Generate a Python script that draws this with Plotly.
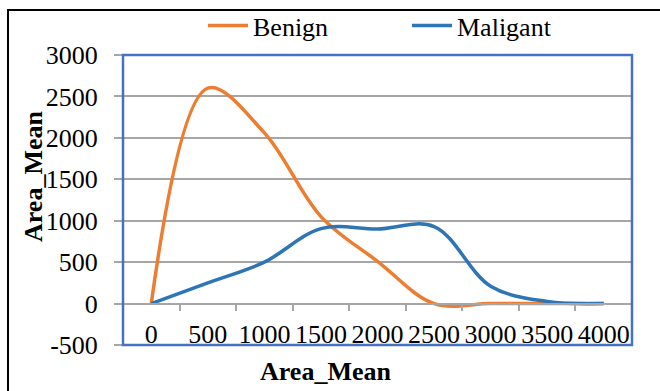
import plotly.graph_objects as go

# ---- data ----
categories = ["0", "500", "1000", "1500", "2000", "2500", "3000", "3500", "4000"]
benign = [0, 2600, 2060, 1050, 510, 0, 0, 0, 0]
maligant = [0, 250, 500, 905, 900, 930, 210, 25, 0]
y_ticks = [-500, 0, 500, 1000, 1500, 2000, 2500, 3000]
y_tick_text = ["-500", "0", "500", "1000", "1500", "2000", "2500", "3000"]
y_min, y_max = -500, 3000

W, H = 660, 391
L, R, T, B = 123, 632, 55, 345  # plot area in pixels


def px_x(p):
    return (p - L) / (R - L)


def px_y(p):
    return (B - p) / (B - T)


FONT = "Liberation Serif"
GRID = "#A6A6A6"

fig = go.Figure()
fig.add_trace(go.Scatter(x=categories, y=benign, name="Benign", mode="lines",
                         line=dict(color="#ED7D31", width=3.5, shape="spline", smoothing=1.0)))
fig.add_trace(go.Scatter(x=categories, y=maligant, name="Maligant", mode="lines",
                         line=dict(color="#2E75B6", width=3.5, shape="spline", smoothing=1.0)))

fig.update_layout(
    width=W, height=H,
    margin=dict(l=L, r=W - R, t=T, b=H - B, pad=0, autoexpand=False),
    paper_bgcolor="white", plot_bgcolor="white",
    font=dict(family=FONT, size=26, color="black"),
    legend=dict(orientation="h", x=px_x(203), xanchor="left", y=px_y(2), yanchor="top",
                font=dict(family=FONT, size=26), bgcolor="rgba(0,0,0,0)",
                itemwidth=40, entrywidth=149, entrywidthmode="pixels"),
    xaxis=dict(type="category", categoryorder="array", categoryarray=categories,
               anchor="free", position=(0 - y_min) / (y_max - y_min),
               showline=True, linecolor=GRID, linewidth=1.5,
               ticks="outside", ticklen=7, tickcolor=GRID, tickwidth=1.5,
               tickson="boundaries", showgrid=False, zeroline=False, tickangle=0,
               ticklabelstandoff=7, tickfont=dict(family=FONT, size=26),
               range=[-0.5, len(categories) - 0.5]),
    yaxis=dict(range=[y_min, y_max], tickvals=y_ticks, ticktext=y_tick_text,
               showgrid=True, gridcolor=GRID, gridwidth=1.5, zeroline=False,
               showline=False, ticks="outside", ticklen=8, tickcolor=GRID, tickwidth=1.5,
               ticklabelstandoff=11, tickfont=dict(family=FONT, size=26)),
    shapes=[
        dict(type="rect", xref="paper", yref="paper", x0=0, x1=1, y0=0, y1=1,
             line=dict(color="#4472C4", width=2.5), layer="above"),
        dict(type="rect", xref="paper", yref="paper",
             x0=px_x(8), x1=px_x(680), y0=px_y(10), y1=px_y(420),
             line=dict(color="black", width=2)),
    ],
    annotations=[
        dict(text="<b>Area_Mean</b>", xref="paper", yref="paper",
             x=px_x(325), y=px_y(371), xanchor="center", yanchor="middle",
             showarrow=False, font=dict(family=FONT, size=26)),
        dict(text="<b>Area_Mean</b>", xref="paper", yref="paper",
             x=px_x(33), y=px_y(177), xanchor="center", yanchor="middle",
             textangle=-90, showarrow=False, font=dict(family=FONT, size=26)),
    ],
)

fig.write_html("out.html")
